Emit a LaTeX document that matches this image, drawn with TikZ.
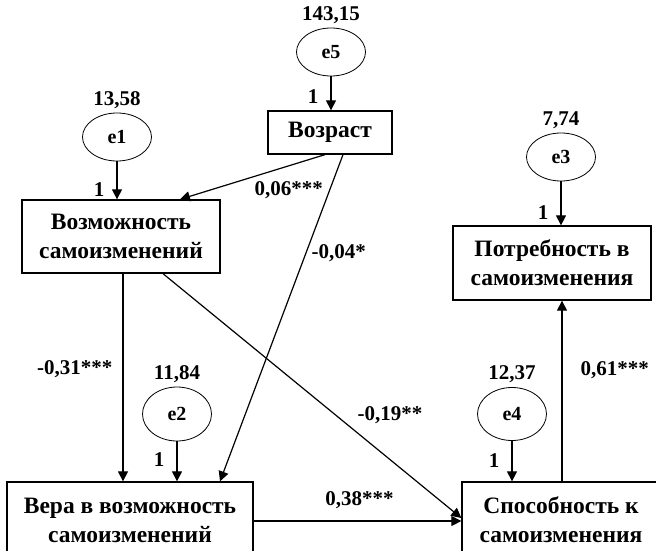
\documentclass[tikz,border=0pt]{standalone}
\usepackage{fontspec}
\setmainfont{Liberation Serif}
\usetikzlibrary{arrows.meta, positioning, shapes.geometric}

\begin{document}
\begin{tikzpicture}[
  x=1pt, y=-1pt,
  every node/.style={font=\bfseries\fontsize{21}{26}\selectfont},
  varbox/.style={rectangle, draw, line width=1.3pt, align=center, inner sep=0pt, font=\bfseries\fontsize{23.5}{29}\selectfont},
  errnode/.style={ellipse, draw, line width=0.8pt, minimum width=69pt, minimum height=48pt, inner sep=0pt, font=\bfseries\fontsize{20}{24}\selectfont},
  varlab/.style={label distance=3pt, inner sep=1pt},
  arr/.style={-{Triangle[length=10pt,width=10pt]}, line width=1.2pt},
  coef/.style={inner sep=1pt},
  one/.style={inner sep=1pt, left=11pt}
]
\useasboundingbox (0,0) rectangle (656,551);

% Observed variables
\node[varbox, minimum width=124pt, minimum height=43pt] (vozrast) at (330,132.5) {Возраст};
\node[varbox, minimum width=198pt, minimum height=73pt] (vozm) at (121,236.5) {Возможность\\самоизменений};
\node[varbox, minimum width=198pt, minimum height=74pt] (potr) at (552,263) {Потребность в\\самоизменения};
\node[varbox, minimum width=246pt, minimum height=76pt] (vera) at (130,520) {Вера в возможность\\самоизменений};
\node[varbox, minimum width=198pt, minimum height=76pt] (sposob) at (561,520) {Способность к\\самоизменения};

% Errors
\node[errnode, label={[varlab]above:143,15}] (e5) at (331,52) {e5};
\node[errnode, label={[varlab]above:13,58}] (e1) at (117,137) {e1};
\node[errnode, label={[varlab]above:7,74}] (e3) at (561,157) {e3};
\node[errnode, minimum height=54pt, label={[varlab]above:11,84}] (e2) at (177,414) {e2};
\node[errnode, minimum height=53pt, label={[varlab]above:12,37}] (e4) at (512,414) {e4};

% Error paths
\draw[arr] (e5) -- node[one, pos=.6] {1} (e5.south |- vozrast.north);
\draw[arr] (e1) -- node[one, pos=.75] {1} (e1.south |- vozm.north);
\draw[arr] (e3) -- node[one, pos=.7] {1} (e3.south |- potr.north);
\draw[arr] (e2) -- node[one, pos=.45] {1} (e2.south |- vera.north);
\draw[arr] (e4) -- node[one, pos=.48] {1} (e4.south |- sposob.north);

% Paths
\draw[arr] ([xshift=-5pt]vozrast.south) -- node[coef, pos=.25, below=14pt] {0,06***} ([xshift=59pt]vozm.north);
\draw[arr] ([xshift=13pt]vozrast.south) -- node[coef, pos=.3, right=4pt] {-0,04*} ([xshift=90pt]vera.north);
\draw[arr] ([xshift=2pt]vozm.south) -- node[coef, pos=.46, left=9pt] {-0,31***} ([xshift=2pt]vozm.south |- vera.north);
\draw[arr] ([xshift=42pt]vozm.south) -- node[coef, pos=.58, right=20pt] {-0,19**} ([yshift=2pt]sposob.west);
\draw[arr] ([yshift=-1pt]vera.east) -- node[coef, pos=.51, above=11pt] {0,38***} ([yshift=-1pt]vera.east -| sposob.west);
\draw[arr] ([xshift=1pt]sposob.north) -- node[coef, pos=.615, right=17pt] {0,61***} ([xshift=1pt]sposob.north |- potr.south);

\end{tikzpicture}
\end{document}
